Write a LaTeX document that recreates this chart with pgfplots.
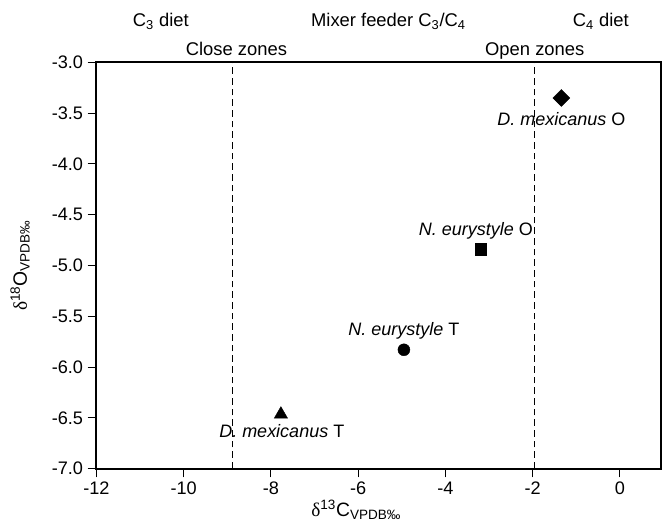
\documentclass[border=0pt]{standalone}
\usepackage{pgfplots}
\pgfplotsset{compat=1.18}
\usepackage{fontspec}
\setmainfont{Liberation Sans}
\newfontfamily\greekserif{Liberation Serif}

\begin{document}
\begin{tikzpicture}
\begin{axis}[
    width=423.75pt, height=304.7pt, scale only axis,
    xmin=-12, xmax=0.95, ymin=-7, ymax=-3,
    xtick={-12,-10,-8,-6,-4,-2,0},
    ytick={-7,-6.5,-6,-5.5,-5,-4.5,-4,-3.5,-3},
    yticklabel style={/pgf/number format/.cd,fixed,fixed zerofill,precision=1},
    /pgf/number format/assume math mode=true,
    tick pos=left, tick align=outside,
    major tick length=6.5pt,
    every tick/.style={black, line width=0.8pt},
    axis line style={line width=1.5pt},
    tick label style={font=\fontsize{13.6}{15}\selectfont},
    label style={font=\fontsize{14.5}{16}\selectfont},
    xlabel={{\greekserif δ}\textsuperscript{13}C\textsubscript{VPDB‰}},
    xlabel style={at={(axis description cs:0.46,-0.119)}, anchor=base},
    ylabel={{\greekserif δ}\textsuperscript{18}O\textsubscript{VPDB‰}},
    ylabel style={at={(axis description cs:-0.135,0.5)}, anchor=center},
    clip=false,
]
% zone boundaries
\addplot[black, line width=0.8pt, dash pattern=on 5pt off 3pt] coordinates {(-8.89,-7) (-8.89,-3)};
\addplot[black, line width=0.8pt, dash pattern=on 5pt off 3pt] coordinates {(-1.95,-7) (-1.95,-3)};

% samples
\addplot[only marks, mark=square*, mark size=4.5pt, mark options={rotate=45, fill=black, line width=0.3pt}] coordinates {(-1.34,-3.35)};
\addplot[only marks, mark=square*, mark size=4.3pt, mark options={fill=black, line width=0.3pt}] coordinates {(-3.19,-4.84)};
\addplot[only marks, mark=*, mark size=4.5pt, mark options={fill=black, line width=0.3pt}] coordinates {(-4.95,-5.83)};
\addplot[only marks, mark=triangle*, mark size=5.8pt, mark options={fill=black, line width=0.3pt}] coordinates {(-7.77,-6.466)};

\node[font=\fontsize{13.5}{15}\selectfont] at (axis cs:-1.34,-3.554) {\textit{D. mexicanus} O};
\node[font=\fontsize{13.5}{15}\selectfont] at (axis cs:-3.30,-4.657) {\textit{N. eurystyle} O};
\node[font=\fontsize{13.5}{15}\selectfont] at (axis cs:-4.95,-5.648) {\textit{N. eurystyle} T};
\node[font=\fontsize{13.5}{15}\selectfont] at (axis cs:-7.75,-6.635) {\textit{D. mexicanus} T};

% diet / zone headings
\node[font=\fontsize{13.8}{15}\selectfont, anchor=base] at (axis description cs:0.114,1.088) {C\textsubscript{3} diet};
\node[font=\fontsize{13.8}{15}\selectfont, anchor=base] at (axis description cs:0.517,1.088) {Mixer feeder C\textsubscript{3}/C\textsubscript{4}};
\node[font=\fontsize{13.8}{15}\selectfont, anchor=base] at (axis description cs:0.893,1.088) {C\textsubscript{4} diet};
\node[font=\fontsize{13.8}{15}\selectfont, anchor=base] at (axis description cs:0.248,1.018) {Close zones};
\node[font=\fontsize{13.8}{15}\selectfont, anchor=base] at (axis description cs:0.776,1.018) {Open zones};

\coordinate (bbl) at (axis description cs:-0.1706,-0.141);
\coordinate (btr) at (axis description cs:1.003,1.1536);
\end{axis}
\pgfresetboundingbox
\path[use as bounding box] (bbl) rectangle (btr);
\end{tikzpicture}
\end{document}
